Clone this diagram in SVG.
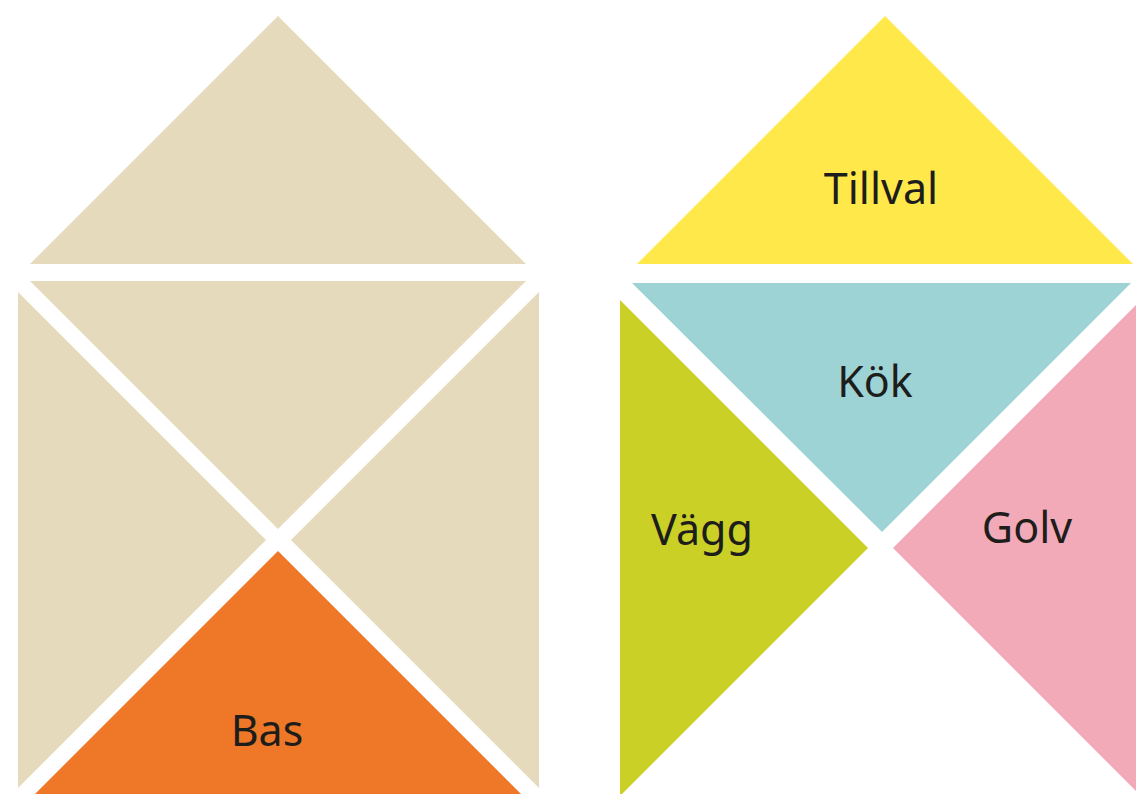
<svg xmlns="http://www.w3.org/2000/svg" width="1136" height="794" viewBox="0 0 1136 794">
<style>
.lbl{font-family:"Noto Sans","Open Sans","Liberation Sans",sans-serif;font-size:43px;fill:#1d1d1b;text-anchor:middle}
.beige{fill:#E5DABC}
</style>
<rect width="1136" height="794" fill="#ffffff"/>
<g id="left-top"><polygon class="beige" points="278,16 526,264 30,264"/></g>
<g id="left-middle"><polygon class="beige" points="30,281 526,281 278,529"/></g>
<g id="left-left"><polygon class="beige" points="18,292 266,540 18,788"/></g>
<g id="left-right"><polygon class="beige" points="539,292 291,540 539,788"/></g>
<g id="bas"><polygon fill="#EE7827" points="278,551 521,794 35,794"/><text class="lbl" x="267" y="746">Bas</text></g>
<g id="tillval"><polygon fill="#FFE84A" points="885,16 1133,264 637,264"/><text class="lbl" x="881" y="204">Tillval</text></g>
<g id="kok"><polygon fill="#9DD3D4" points="632,283 1131,283 882,532"/><text class="lbl" x="875" y="397">Kök</text></g>
<g id="vagg"><polygon fill="#CBD027" points="620,300 868,548 622,794 620,794"/><text class="lbl" x="702" y="545">Vägg</text></g>
<g id="golv"><polygon fill="#F2A9B8" points="1136,305 893,548 1136,791"/><text class="lbl" x="1027" y="543">Golv</text></g>
<g id="connectors"></g>
</svg>
